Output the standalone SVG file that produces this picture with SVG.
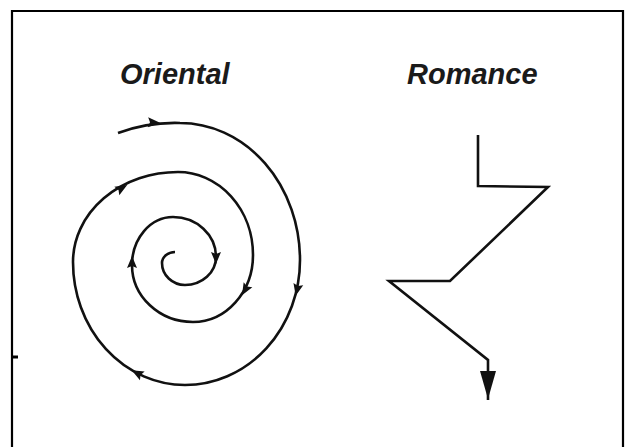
<svg xmlns="http://www.w3.org/2000/svg" width="635" height="447" viewBox="0 0 635 447">
<style>
.ln{fill:none;stroke:#111;stroke-width:2.6;stroke-linejoin:miter;stroke-linecap:butt}
.fr{fill:none;stroke:#000;stroke-width:2.2}
.ah{fill:#111;stroke:none}
.lb{font-family:"Liberation Sans",Arial,sans-serif;font-style:italic;font-weight:bold;font-size:29px;fill:#1a1a1a}
</style>
<defs>
<polygon id="tri" points="6,0 -6,-5 -4,0 -6,5"/>
</defs>
<rect width="635" height="447" fill="#fff"/>
<g id="frame">
<polyline class="fr" points="12,447 12,11 623,11 623,447"/>
<line x1="12" y1="357" x2="18" y2="357" stroke="#000" stroke-width="3"/>
</g>
<g id="oriental">
<text class="lb" x="120" y="84">Oriental</text>
<path class="ln" d="M118,133 Q148,122 180,123 A120,137 0 0 1 300,260 A115,125 0 0 1 185,385 A112,123 0 0 1 73,262 A105,90 0 0 1 178,172 A75,83 0 0 1 253,255 A60,67 0 0 1 193,322 A61,57 0 0 1 132,265 A41,48 0 0 1 173,217 A43,40 0 0 1 216,257 A31,28 0 0 1 185,285 A23,22 0 0 1 162,263 A13,11 0 0 1 175,252"/>
<use href="#tri" class="ah" transform="translate(154,122.5) rotate(2)"/>
<use href="#tri" class="ah" transform="translate(297,290) rotate(103)"/>
<use href="#tri" class="ah" transform="translate(137,373) rotate(208)"/>
<use href="#tri" class="ah" transform="translate(122,188) rotate(-30)"/>
<use href="#tri" class="ah" transform="translate(245,290) rotate(120)"/>
<use href="#tri" class="ah" transform="translate(132,262) rotate(-90)"/>
<use href="#tri" class="ah" transform="translate(216,258) rotate(90)"/>
</g>
<g id="romance">
<text class="lb" x="407" y="84">Romance</text>
<polyline class="ln" points="478,135 478,186 548,187 450,281 389,281 488,360 488,400"/>
<polygon class="ah" points="480,371 496,371 488,399"/>
</g>
</svg>
